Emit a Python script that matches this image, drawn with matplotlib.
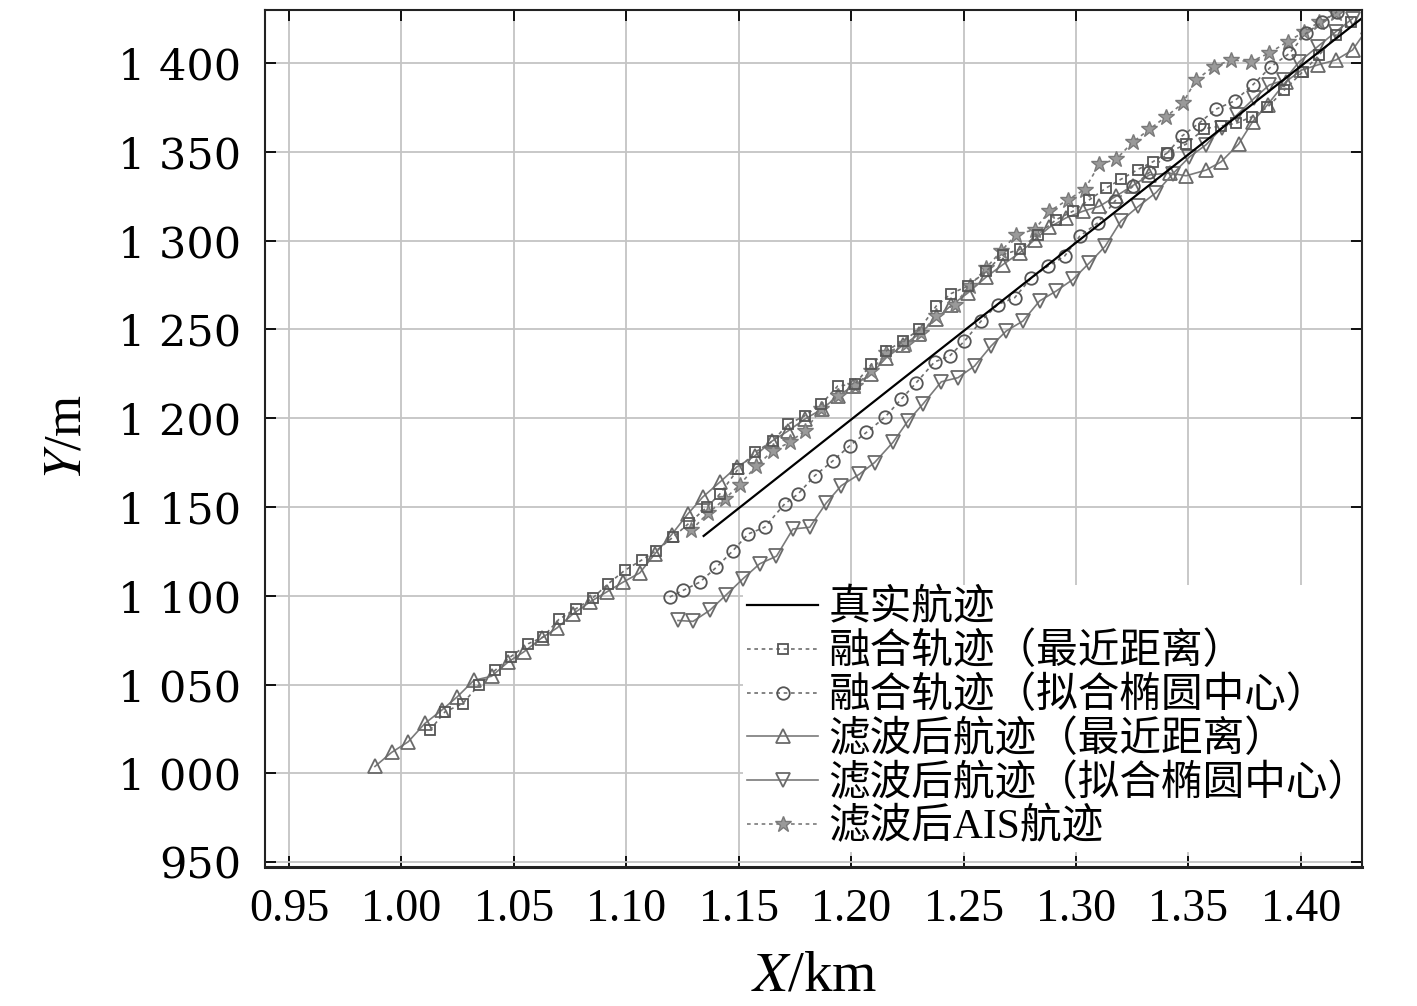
import matplotlib
matplotlib.use("Agg")
import matplotlib.pyplot as plt

plt.rcParams['mathtext.fontset'] = 'stix'

# ---------------- data ----------------
true_x = [1.1344, 1.2230, 1.3193, 1.4300]
true_y = [1133.7, 1222.2, 1318.0, 1428.0]

sq_x = [1.0127, 1.0193, 1.0272, 1.0346, 1.0416, 1.0485, 1.0564, 1.0630, 1.0700, 1.0776,
        1.0850, 1.0919, 1.0993, 1.1072, 1.1134, 1.1208, 1.1280, 1.1357, 1.1416, 1.1497,
        1.1571, 1.1653, 1.1719, 1.1793, 1.1867, 1.1941, 1.2016, 1.2090, 1.2156, 1.2230,
        1.2304, 1.2378, 1.2445, 1.2519, 1.2601, 1.2675, 1.2749, 1.2830, 1.2912, 1.2986,
        1.3060, 1.3134, 1.3200, 1.3275, 1.3341, 1.3407, 1.3490, 1.3571, 1.3645, 1.3712,
        1.3784, 1.3851, 1.3927, 1.4008, 1.4082, 1.4156, 1.4223]
sq_y = [1024.4, 1034.6, 1039.3, 1050.0, 1058.0, 1065.6, 1073.0, 1076.8, 1086.7, 1092.7,
        1098.7, 1106.7, 1114.3, 1120.4, 1125.5, 1133.0, 1141.0, 1149.8, 1157.3, 1171.3,
        1180.7, 1187.3, 1196.6, 1201.3, 1207.9, 1218.2, 1219.1, 1230.3, 1237.9, 1243.4,
        1250.0, 1263.1, 1270.2, 1274.4, 1282.8, 1292.1, 1295.0, 1303.4, 1311.8, 1316.5,
        1323.0, 1329.6, 1334.5, 1340.0, 1344.3, 1349.4, 1354.3, 1363.0, 1364.5, 1366.0,
        1369.8, 1375.0, 1384.8, 1395.0, 1404.5, 1415.7, 1423.2]

ci_x = [1.1193, 1.1252, 1.1327, 1.1401, 1.1475, 1.1542, 1.1616, 1.1704, 1.1764, 1.1838,
        1.1919, 1.1993, 1.2068, 1.2149, 1.2223, 1.2290, 1.2371, 1.2438, 1.2504, 1.2578,
        1.2652, 1.2727, 1.2801, 1.2875, 1.2949, 1.3016, 1.3097, 1.3175, 1.3253, 1.3327,
        1.3404, 1.3471, 1.3545, 1.3623, 1.3706, 1.3786, 1.3868, 1.3949, 1.4023, 1.4096,
        1.4162]
ci_y = [1099.3, 1103.0, 1107.7, 1116.1, 1125.5, 1134.8, 1138.6, 1151.7, 1157.3, 1167.6,
        1176.0, 1184.4, 1192.0, 1200.4, 1210.7, 1220.0, 1231.7, 1235.0, 1243.4, 1254.7,
        1264.0, 1267.8, 1279.0, 1285.6, 1291.2, 1302.4, 1310.0, 1322.5, 1330.5, 1338.4,
        1349.0, 1358.8, 1365.9, 1374.0, 1378.7, 1387.6, 1398.0, 1405.4, 1416.7, 1423.2,
        1428.9]

tu_x = [0.9882, 0.9956, 1.0030, 1.0104, 1.0179, 1.0248, 1.0322, 1.0401, 1.0475, 1.0544,
        1.0623, 1.0692, 1.0764, 1.0838, 1.0912, 1.0986, 1.1060, 1.1127, 1.1202, 1.1273,
        1.1340, 1.1416, 1.1491, 1.1571, 1.1647, 1.1718, 1.1793, 1.1869, 1.1940, 1.2007,
        1.2087, 1.2156, 1.2230, 1.2304, 1.2378, 1.2445, 1.2519, 1.2601, 1.2675, 1.2749,
        1.2816, 1.2882, 1.2956, 1.3030, 1.3104, 1.3178, 1.3253, 1.3327, 1.3416, 1.3490,
        1.3579, 1.3645, 1.3723, 1.3786, 1.3852, 1.3934, 1.4003, 1.4075, 1.4156, 1.4230,
        1.4300]
tu_y = [1003.9, 1011.8, 1017.8, 1028.1, 1035.6, 1043.1, 1052.4, 1054.7, 1062.8, 1068.4,
        1076.2, 1081.9, 1089.9, 1096.5, 1102.1, 1107.7, 1112.9, 1123.6, 1134.5, 1146.0,
        1155.6, 1164.0, 1172.5, 1178.7, 1187.0, 1192.7, 1199.4, 1205.0, 1212.4, 1218.0,
        1224.7, 1234.0, 1241.0, 1247.5, 1256.0, 1263.5, 1270.5, 1279.5, 1286.5, 1293.0,
        1300.5, 1307.5, 1312.8, 1316.5, 1319.3, 1325.0, 1331.0, 1337.0, 1338.0, 1336.5,
        1339.7, 1344.3, 1354.3, 1367.0, 1376.5, 1389.5, 1396.0, 1398.9, 1401.7, 1407.3,
        1420.0]

td_x = [1.1230, 1.1297, 1.1371, 1.1445, 1.1519, 1.1593, 1.1668, 1.1741, 1.1816, 1.1889,
        1.1956, 1.2037, 1.2104, 1.2186, 1.2253, 1.2319, 1.2401, 1.2475, 1.2549, 1.2623,
        1.2690, 1.2764, 1.2838, 1.2912, 1.2986, 1.3060, 1.3130, 1.3200, 1.3278, 1.3356,
        1.3430, 1.3504, 1.3579, 1.3648, 1.3716, 1.3793, 1.3860, 1.3927, 1.3993, 1.4075,
        1.4156, 1.4230]
td_y = [1086.1, 1085.6, 1091.8, 1100.6, 1109.6, 1118.0, 1122.3, 1137.6, 1138.6, 1152.2,
        1162.0, 1168.5, 1175.0, 1186.4, 1198.5, 1207.9, 1220.5, 1222.8, 1229.4, 1240.7,
        1249.1, 1254.7, 1266.0, 1271.6, 1278.1, 1287.5, 1296.8, 1311.0, 1319.3, 1327.0,
        1337.5, 1347.0, 1354.0, 1363.4, 1370.8, 1380.2, 1387.6, 1390.4, 1400.7, 1409.2,
        1417.6, 1425.0]

st_x = [1.1289, 1.1363, 1.1438, 1.1504, 1.1578, 1.1652, 1.1727, 1.1793, 1.1867, 1.1941,
        1.2016, 1.2090, 1.2156, 1.2244, 1.2311, 1.2378, 1.2460, 1.2527, 1.2601, 1.2667,
        1.2734, 1.2816, 1.2882, 1.2964, 1.3038, 1.3104, 1.3178, 1.3253, 1.3327, 1.3401,
        1.3474, 1.3534, 1.3612, 1.3690, 1.3779, 1.3860, 1.3941, 1.4016, 1.4082, 1.4156,
        1.4230]
st_y = [1137.0, 1146.5, 1154.5, 1162.5, 1173.0, 1181.7, 1186.4, 1192.9, 1205.0, 1212.5,
        1218.2, 1226.6, 1236.9, 1241.6, 1248.0, 1257.5, 1264.0, 1274.3, 1284.7, 1294.0,
        1303.4, 1306.2, 1316.5, 1323.0, 1328.7, 1343.0, 1345.7, 1355.5, 1362.7, 1369.8,
        1377.2, 1390.4, 1397.9, 1401.7, 1400.8, 1405.6, 1412.0, 1417.6, 1423.2, 1428.0,
        1433.0]

series_labels = ['真实航迹', '融合轨迹（最近距离）', '融合轨迹（拟合椭圆中心）',
                 '滤波后航迹（最近距离）', '滤波后航迹（拟合椭圆中心）', '滤波后AIS航迹']

x_ticks = [0.95, 1.00, 1.05, 1.10, 1.15, 1.20, 1.25, 1.30, 1.35, 1.40]
x_tick_labels = ['0.95', '1.00', '1.05', '1.10', '1.15', '1.20', '1.25', '1.30', '1.35', '1.40']
y_ticks = [950, 1000, 1050, 1100, 1150, 1200, 1250, 1300, 1350, 1400]
y_tick_labels = ['950', '1 000', '1 050', '1 100', '1 150', '1 200', '1 250', '1 300', '1 350', '1 400']

# ---------------- figure ----------------
fig = plt.figure(figsize=(14.17, 10.06), dpi=100)
ax = fig.add_axes([0.187, 0.138, 0.774, 0.852])

gray = '#6e6e6e'
dot = (0, (2.2, 2.2))

ax.plot(true_x, true_y, color='black', lw=1.6, label=series_labels[0], zorder=5)
ax.plot(sq_x, sq_y, color=gray, ls=dot, lw=1.2, marker='s', ms=7.5, mfc='none', mec='#555555',
        mew=1.3, label=series_labels[1], zorder=4)
ax.plot(ci_x, ci_y, color=gray, ls=dot, lw=1.2, marker='o', ms=9, mfc='none', mec='#555555',
        mew=1.3, label=series_labels[2], zorder=4)
ax.plot(tu_x, tu_y, color='#7a7a7a', ls='-', lw=1.2, marker='^', ms=9.5, mfc='none', mec='#6a6a6a',
        mew=1.3, label=series_labels[3], zorder=3)
ax.plot(td_x, td_y, color='#7a7a7a', ls='-', lw=1.2, marker='v', ms=9.5, mfc='none', mec='#6a6a6a',
        mew=1.3, label=series_labels[4], zorder=3)
ax.plot(st_x, st_y, color='#7a7a7a', ls=dot, lw=1.2, marker='*', ms=12, mfc='#9a9a9a', mec='#7a7a7a',
        mew=1.0, label=series_labels[5], zorder=3)

ax.set_xlim(0.9393, 1.4271)
ax.set_ylim(947.2, 1429.8)

ax.set_xticks(x_ticks)
ax.set_xticklabels(x_tick_labels, fontfamily='Liberation Serif', fontsize=33)
ax.set_yticks(y_ticks)
ax.set_yticklabels(y_tick_labels, fontfamily='DejaVu Serif', fontsize=31)

ax.tick_params(axis='both', which='major', direction='in', length=8, width=1.3,
               top=True, right=True, color='black')
ax.tick_params(axis='x', pad=15)
ax.tick_params(axis='y', pad=17)

ax.grid(True, color='#c4c4c4', lw=1.3)
ax.set_axisbelow(True)
for s in ax.spines.values():
    s.set_linewidth(1.5)
    s.set_color('#222222')
    s.set_zorder(6)
ax.spines['bottom'].set_linewidth(2.2)

ax.set_xlabel(r'$X$/km', fontfamily='Liberation Serif', fontsize=41)
ax.xaxis.set_label_coords(0.501, -0.097)
ax.set_ylabel(r'$Y$/m', fontfamily='Liberation Serif', fontsize=38)
ax.yaxis.set_label_coords(-0.158, 0.502)

leg = ax.legend(loc='upper left', bbox_to_anchor=(0.436, 0.329), frameon=True,
                fancybox=False, framealpha=1.0, edgecolor='none', facecolor='white',
                prop={'family': ['Liberation Serif', 'Noto Sans CJK SC'], 'size': 30},
                handlelength=1.7, handletextpad=0.25, labelspacing=0.1,
                borderpad=0.1, borderaxespad=0.0, numpoints=1)
leg.set_zorder(2.6)

fig.savefig('out.png', dpi=100)
